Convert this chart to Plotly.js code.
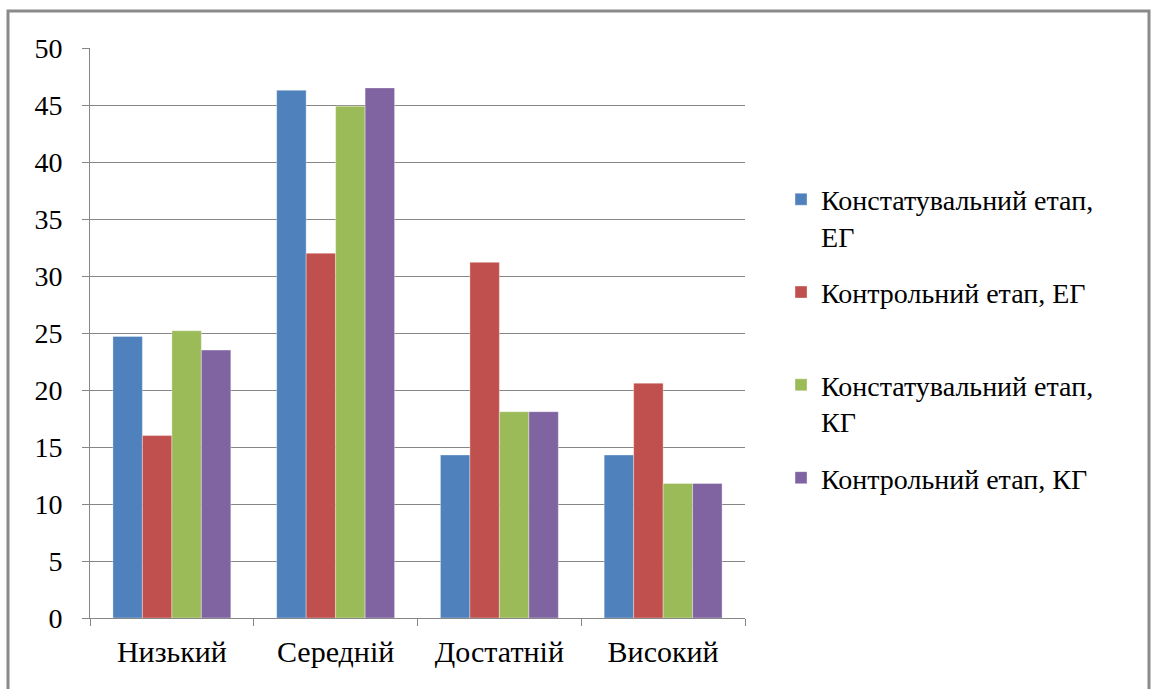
<!DOCTYPE html>
<html>
<head>
<meta charset="utf-8">
<script src="https://cdn.plot.ly/plotly-3.0.1.min.js"></script>
</head>
<body style="margin:0;padding:0;background:#fff;">
<div id="chart"></div>
<script>
const categories = ["Низький", "Середній", "Достатній", "Високий"];
const seriesNames = ["Констатувальний етап,<br>ЕГ", "Контрольний етап, ЕГ<br>\u00a0", "Констатувальний етап,<br>КГ", "Контрольний етап, КГ<br>\u00a0"];
const konstEG = [24.7, 46.3, 14.3, 14.3];
const kontrEG = [16.0, 32.0, 31.2, 20.6];
const konstKG = [25.2, 44.9, 18.1, 11.8];
const kontrKG = [23.5, 46.5, 18.1, 11.8];
const yTicks = [0, 5, 10, 15, 20, 25, 30, 35, 40, 45, 50];
const colors = ["#4F81BD", "#C0504D", "#9BBB59", "#8064A2"];

const seriesValues = [konstEG, kontrEG, konstKG, kontrKG];
const traces = seriesValues.map((vals, i) => ({
  type: "bar",
  x: categories,
  y: vals,
  name: seriesNames[i],
  legendgroup: "g" + i,
  marker: {color: colors[i], line: {color: "rgba(255,255,255,0.35)", width: 1}},
  hoverinfo: "x+y"
}));

const layout = {
  width: 1152, height: 689,
  margin: {l: 90, r: 407, t: 48, b: 71},
  paper_bgcolor: "#fff", plot_bgcolor: "#fff",
  barmode: "group", bargap: 0.28, bargroupgap: 0,
  font: {family: "Times New Roman", size: 26, color: "#000"},
  showlegend: true,
  legend: {
    x: 1.055, xanchor: "left", y: 0.778, yanchor: "top",
    font: {family: "Times New Roman", size: 28, color: "#000"},
    tracegroupgap: 17, valign: "top", bgcolor: "rgba(0,0,0,0)"
  },
  xaxis: {
    type: "category",
    tickson: "boundaries",
    ticks: "outside", ticklen: 7, tickcolor: "#868686", tickwidth: 1,
    showline: true, linecolor: "#868686", linewidth: 1,
    showgrid: false, zeroline: false,
    tickfont: {family: "Times New Roman", size: 30, color: "#000"},
    ticklabelstandoff: 7
  },
  yaxis: {
    range: [0, 50], tickvals: yTicks, ticktext: yTicks.map(String),
    ticks: "outside", ticklen: 7, tickcolor: "#868686", tickwidth: 1,
    showline: true, linecolor: "#868686", linewidth: 1,
    showgrid: true, gridcolor: "#868686", gridwidth: 1,
    zeroline: false,
    tickfont: {family: "Times New Roman", size: 28, color: "#000"},
    ticklabelstandoff: 14
  },
  shapes: [{
    type: "rect", xref: "paper", yref: "paper",
    x0: (8 - 90) / 655, x1: (1149 - 90) / 655,
    y0: (618 - 700) / 570, y1: (618 - 11) / 570,
    line: {color: "#8a8a8a", width: 3}, fillcolor: "rgba(0,0,0,0)", layer: "below"
  }]
};

Plotly.newPlot("chart", traces, layout, {displayModeBar: false});
</script>
</body>
</html>
